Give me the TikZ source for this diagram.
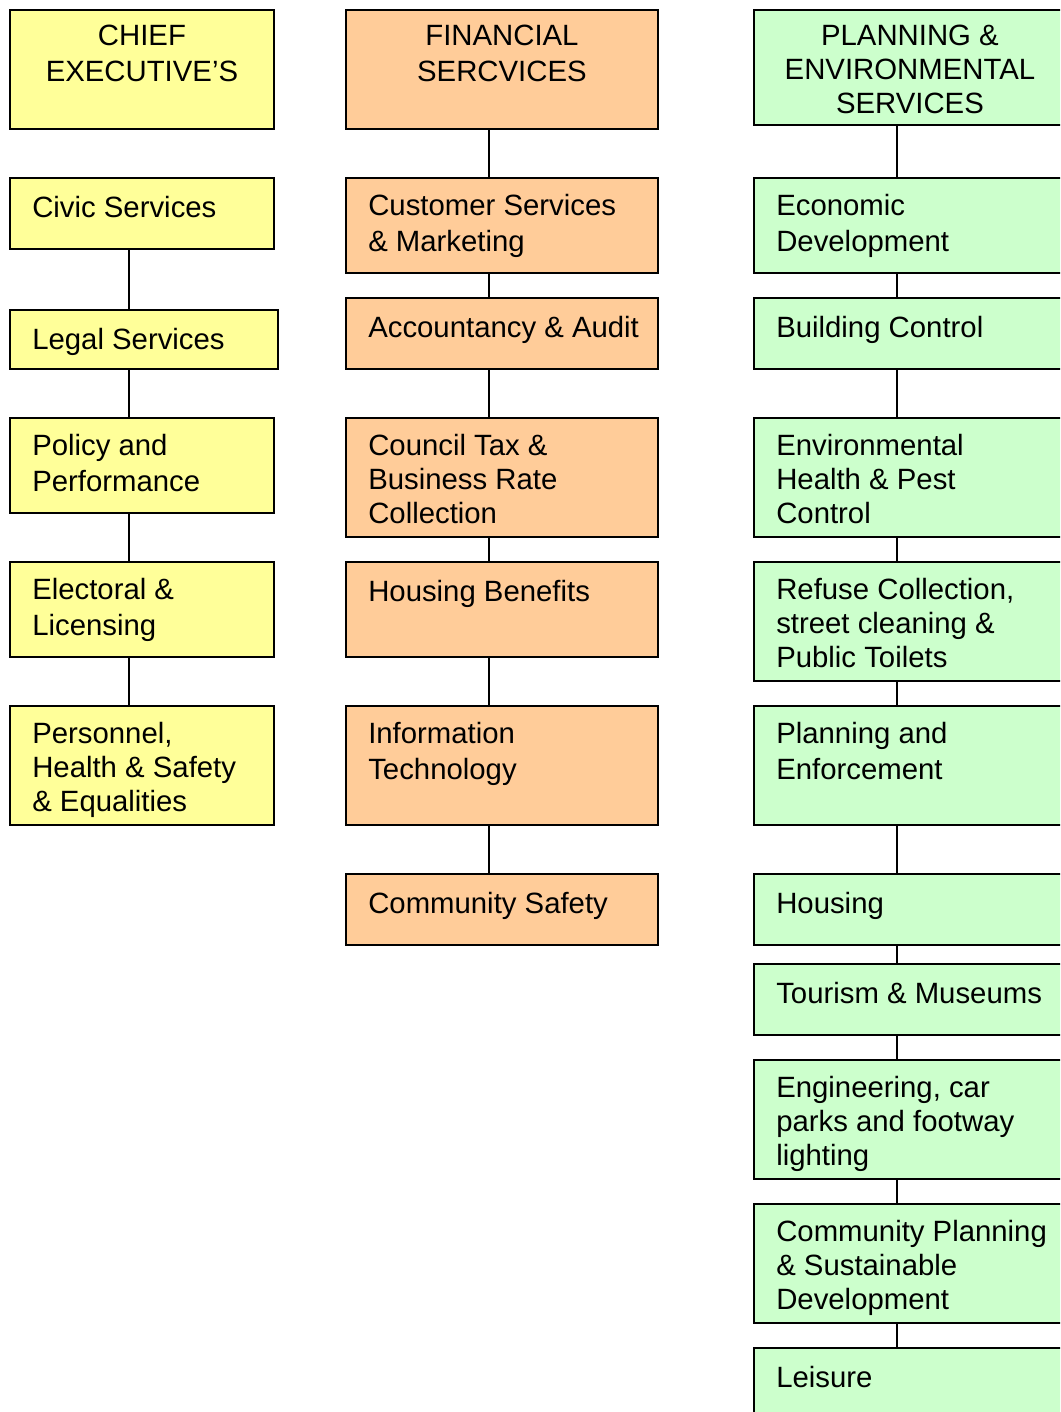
\documentclass[tikz,border=0pt]{standalone}
\usepackage{fontspec}
\setmainfont{Liberation Sans}
\usetikzlibrary{calc}
\definecolor{cyel}{HTML}{FFFF99}
\definecolor{corg}{HTML}{FFCC99}
\definecolor{cgrn}{HTML}{CCFFCC}
\tikzset{
  box/.style={draw=black, line width=1.4pt, inner sep=0pt, anchor=north west},
  yel/.style={box, fill=cyel},
  org/.style={box, fill=corg},
  grn/.style={box, fill=cgrn},
  lbl/.style={inner sep=0pt, anchor=north west, align=left, font=\fontsize{22}{27}\selectfont},
  hdr/.style={inner sep=0pt, anchor=north, align=center, font=\fontsize{22}{27}\selectfont},
  tight/.style={font=\fontsize{22}{25.5}\selectfont},
  oneline/.style={yshift=-1.5pt},
  link/.style={line width=1.4pt}
}
\newcommand\tp{\rule{0pt}{18pt}}
\newcommand\obox[6]{\node[#2, minimum width={(#5-(#3))*0.75pt}, minimum height={(#6-(#4))*0.75pt}] (#1) at (#3,#4) {};}
\newcommand\olbl[3][]{\node[lbl,#1] (t-#2) at ($(#2.north west)+(23,14)$) {\tp #3};}
\begin{document}
\begin{tikzpicture}[x=0.75pt,y=-0.75pt]
\useasboundingbox (0,0) rectangle (1060,1412);
\clip (0,0) rectangle (1060,1412);
\coordinate (xl) at (129,0);
\coordinate (xm) at (489,0);
\coordinate (xr) at (897,0);
% left column
\obox{ce}{yel}{9}{9}{273}{128}
\obox{civic}{yel}{9}{177}{273}{248}
\obox{legal}{yel}{9}{309}{277}{368}
\obox{policy}{yel}{9}{417}{273}{512}
\obox{elect}{yel}{9}{561}{273}{656}
\obox{pers}{yel}{9}{705}{273}{824}
% middle column
\obox{fs}{org}{345}{9}{657}{128}
\obox{cust}{org}{345}{177}{657}{272}
\obox{acc}{org}{345}{297}{657}{368}
\obox{ctax}{org}{345}{417}{657}{536}
\obox{hb}{org}{345}{561}{657}{656}
\obox{it}{org}{345}{705}{657}{824}
\obox{cs}{org}{345}{873}{657}{944}
% right column
\obox{pes}{grn}{753}{9}{1065}{124}
\obox{econ}{grn}{753}{177}{1065}{272}
\obox{bc}{grn}{753}{297}{1065}{368}
\obox{env}{grn}{753}{417}{1065}{536}
\obox{ref}{grn}{753}{561}{1065}{680}
\obox{pe}{grn}{753}{705}{1065}{824}
\obox{hous}{grn}{753}{873}{1065}{944}
\obox{tour}{grn}{753}{963}{1065}{1034}
\obox{eng}{grn}{753}{1059}{1065}{1178}
\obox{cp}{grn}{753}{1203}{1065}{1322}
\obox{leis}{grn}{753}{1347}{1065}{1430}
% connectors
\foreach \a/\b in {civic/legal, legal/policy, policy/elect, elect/pers}
  \draw[link] (\a.south -| xl) -- (\b.north -| xl);
\foreach \a/\b in {fs/cust, cust/acc, acc/ctax, ctax/hb, hb/it, it/cs}
  \draw[link] (\a.south -| xm) -- (\b.north -| xm);
\foreach \a/\b in {pes/econ, econ/bc, bc/env, env/ref, ref/pe, pe/hous, hous/tour, tour/eng, eng/cp, cp/leis}
  \draw[link] (\a.south -| xr) -- (\b.north -| xr);
% headers
\node[hdr] (t-ce) at ($(ce.north)+(0,12)$) {\tp CHIEF\\EXECUTIVE’S};
\node[hdr] (t-fs) at ($(fs.north)+(0,12)$) {\tp FINANCIAL\\SERCVICES};
\node[hdr,tight] (t-pes) at ($(pes.north)+(0,12)$) {\tp PLANNING \&\\ENVIRONMENTAL\\SERVICES};
% labels
\olbl[oneline]{civic}{Civic Services}
\olbl[oneline]{legal}{Legal Services}
\olbl{policy}{Policy and\\Performance}
\olbl{elect}{Electoral \&\\Licensing}
\olbl[tight]{pers}{Personnel,\\Health \& Safety\\\& Equalities}
\olbl{cust}{Customer Services\\\& Marketing}
\olbl[oneline]{acc}{Accountancy \& Audit}
\olbl[tight]{ctax}{Council Tax \&\\Business Rate\\Collection}
\olbl[oneline]{hb}{Housing Benefits}
\olbl{it}{Information\\Technology}
\olbl[oneline]{cs}{Community Safety}
\olbl{econ}{Economic\\Development}
\olbl[oneline]{bc}{Building Control}
\olbl[tight]{env}{Environmental\\Health \& Pest\\Control}
\olbl[tight]{ref}{Refuse Collection,\\street cleaning \&\\Public Toilets}
\olbl{pe}{Planning and\\Enforcement}
\olbl[oneline]{hous}{Housing}
\olbl[oneline]{tour}{Tourism \& Museums}
\olbl[tight]{eng}{Engineering, car\\parks and footway\\lighting}
\olbl[tight]{cp}{Community Planning\\\& Sustainable\\Development}
\olbl[oneline]{leis}{Leisure}
\end{tikzpicture}
\end{document}
